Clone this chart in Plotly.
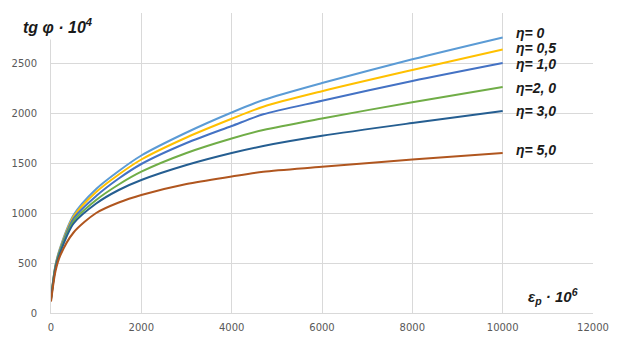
import plotly.graph_objects as go

x_vals = [0, 100, 200, 500, 1000, 1500, 2000, 3000, 4000, 4700, 6000, 8000, 10000]

eta_0 = [150, 480, 650, 980, 1240, 1420, 1575, 1805, 2005, 2130, 2300, 2537, 2755]
eta_05 = [150, 475, 640, 965, 1210, 1385, 1535, 1755, 1942, 2063, 2218, 2430, 2635]
eta_1 = [150, 470, 630, 945, 1170, 1345, 1490, 1700, 1870, 1987, 2122, 2320, 2500]
eta_2 = [140, 460, 615, 920, 1130, 1285, 1413, 1600, 1745, 1830, 1945, 2108, 2260]
eta_3 = [130, 450, 600, 895, 1095, 1230, 1330, 1480, 1600, 1670, 1772, 1900, 2020]
eta_5 = [115, 420, 570, 805, 1000, 1105, 1180, 1290, 1365, 1413, 1462, 1535, 1600]

series_names = ["η= 0", "η= 0,5", "η= 1,0", "η=2, 0", "η= 3,0", "η= 5,0"]
series_vals = [eta_0, eta_05, eta_1, eta_2, eta_3, eta_5]
series_colors = ["#5B9BD5", "#FFC000", "#4472C4", "#70AD47", "#255E91", "#B0561F"]
label_y = [2800, 2650, 2490, 2250, 2020, 1630]

x_ticks = [0, 2000, 4000, 6000, 8000, 10000, 12000]
x_ticktext = ["0", "2000", "4000", "6000", "8000", "10000", "12000"]
y_ticks = [0, 500, 1000, 1500, 2000, 2500, 3000]
y_ticktext = ["0", "500", "1000", "1500", "2000", "2500", ""]

fig = go.Figure()
for name, vals, col in zip(series_names, series_vals, series_colors):
    fig.add_trace(go.Scatter(x=x_vals, y=vals, mode="lines", name=name,
                             line=dict(color=col, width=2, shape="spline", smoothing=0.8)))

for name, ly in zip(series_names, label_y):
    fig.add_annotation(x=10250, y=ly, xref="x", yref="y", text="<b><i>" + name + "</i></b>",
                       showarrow=False, xanchor="left", yanchor="middle",
                       font=dict(family="Liberation Sans, Arial", size=14, color="#1a1a1a"))

fig.add_annotation(x=0.085, y=1.0, xref="paper", yref="paper",
                   text="<b><i>tg φ · 10<sup>4</sup></i></b>", showarrow=False,
                   xanchor="right", yanchor="top", yshift=1,
                   bgcolor="white", borderpad=3,
                   font=dict(family="Liberation Sans, Arial", size=16, color="#1a1a1a"))

fig.add_annotation(x=11720, y=170, xref="x", yref="y",
                   text="<b><i>ε<sub>p</sub> · 10<sup>6</sup></i></b>", showarrow=False,
                   xanchor="right", yanchor="middle",
                   font=dict(family="Liberation Sans, Arial", size=15, color="#1a1a1a"))

fig.update_layout(
    width=609, height=329,
    margin=dict(l=43, r=24, t=5, b=24),
    paper_bgcolor="white", plot_bgcolor="white",
    showlegend=False,
    font=dict(family="DejaVu Sans", size=10, color="#595959"),
)
fig.update_xaxes(range=[0, 12000], tickvals=x_ticks, ticktext=x_ticktext, showgrid=True,
                 gridcolor="#d9d9d9", gridwidth=1, showline=True, linecolor="#d9d9d9",
                 linewidth=1, zeroline=False, ticks="", ticklabelstandoff=5, automargin=False)
fig.update_yaxes(range=[0, 3000], tickvals=y_ticks, ticktext=y_ticktext, showgrid=True,
                 gridcolor="#d9d9d9", gridwidth=1, showline=True, linecolor="#d9d9d9",
                 linewidth=1, zeroline=False, ticks="", ticklabelstandoff=11, automargin=False)

fig.write_html("out.html")
